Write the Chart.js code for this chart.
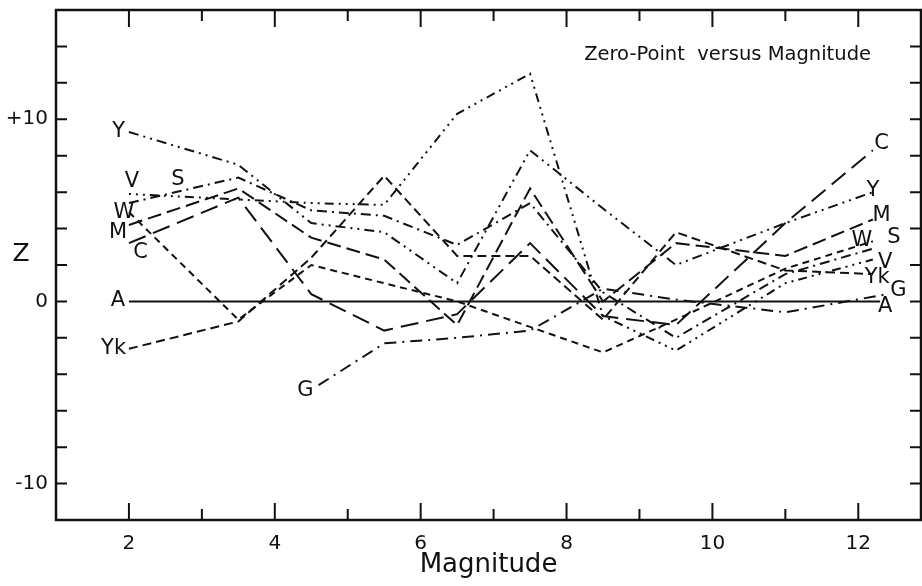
<!DOCTYPE html>
<html>
<head>
<meta charset="utf-8">
<script src="https://cdn.jsdelivr.net/npm/chart.js@4.4.0/dist/chart.umd.min.js"></script>
<style>
  html, body { margin: 0; padding: 0; background: #fff; }
</style>
</head>
<body>
<canvas id="zpChart" width="922" height="586"></canvas>
<script>
// magnitudes where the curves were measured
const mags  = [2, 3.5, 4.5, 5.5, 6.5, 7.5, 8.5, 9.5, 11, 12.2];
const magsG = [4.6, 5.5, 6.5, 7.5, 8.5, 9.5, 11, 12.4];
const magsA = [2, 12.3];

// zero-point Z for each curve
const zY  = [9.3, 7.5, 4.3, 3.8, 1.0, 8.3, 5.1, 2.0, 4.3, 6.0];
const zV  = [5.9, 5.6, 5.4, 5.3, 10.3, 12.5, -0.8, -2.7, 1.0, 2.3];
const zS  = [5.4, 6.8, 5.0, 4.7, 3.1, 5.4, 0.5, -2.0, 1.5, 2.9];
const zW  = [4.9, -1.0, 2.0, 1.0, 0.0, -1.4, -2.8, -1.0, 1.8, 3.3];
const zM  = [4.2, 6.2, 3.5, 2.3, -1.3, 6.2, 0.0, 3.2, 2.5, 4.5];
const zC  = [3.2, 5.7, 0.4, -1.6, -0.7, 3.2, -0.8, -1.3, 4.3, 8.3];
const zYk = [-2.6, -1.1, 2.4, 6.9, 2.5, 2.5, -1.0, 3.8, 1.7, 1.5];
const zG  = [-4.6, -2.3, -2.0, -1.6, 0.7, 0.1, -0.6, 0.4];
const zA  = [0, 0];

// tick marks and tick labels
const xTicks = [2, 3, 4, 5, 6, 7, 8, 9, 10, 11, 12];
const yTicks = [-10, -8, -6, -4, -2, 0, 2, 4, 6, 8, 10, 12, 14];
const yTickText = { "10": "+10", "0": "0", "-10": "-10" };

// curve names written at the ends of the lines (data coords)
const curveLabels = [
  { t: "Y", x: 1.86, y: 9.3 },  { t: "V", x: 2.04, y: 6.6 },
  { t: "S", x: 2.67, y: 6.7 },  { t: "W", x: 1.93, y: 4.9 },
  { t: "M", x: 1.85, y: 3.8 },  { t: "C", x: 2.16, y: 2.7 },
  { t: "A", x: 1.85, y: 0.05 }, { t: "Yk", x: 1.79, y: -2.6 },
  { t: "G", x: 4.42, y: -4.9 },
  { t: "C", x: 12.32, y: 8.66 }, { t: "Y", x: 12.2, y: 6.1 },
  { t: "M", x: 12.32, y: 4.7 },  { t: "W", x: 12.05, y: 3.34 },
  { t: "S", x: 12.49, y: 3.5 },  { t: "V", x: 12.37, y: 2.14 },
  { t: "Yk", x: 12.26, y: 1.3 }, { t: "G", x: 12.55, y: 0.6 },
  { t: "A", x: 12.37, y: -0.27 }
];

const FONT = "'DejaVu Sans', sans-serif";

function pts(xs, ys) {
  return xs.map((x, i) => ({ x: x, y: ys[i] }));
}

function line(name, xs, ys, dash) {
  return {
    label: name,
    data: pts(xs, ys),
    borderColor: "#111",
    borderWidth: 2,
    borderDash: dash,
    pointRadius: 0,
    fill: false,
    tension: 0
  };
}

// frame, inward ticks and the texts inside the plot
const decorations = {
  id: "decorations",
  afterDraw(chart) {
    const { ctx, chartArea: a, scales } = chart;
    const xs = scales.x, ys = scales.y;
    ctx.save();
    ctx.strokeStyle = "#111";
    ctx.lineWidth = 2.5;
    ctx.strokeRect(a.left, a.top, a.right - a.left, a.bottom - a.top);

    ctx.lineWidth = 2;
    ctx.beginPath();
    xs.ticks.forEach(t => {
      const px = xs.getPixelForValue(t.value);
      const len = t.value % 2 === 0 ? 17 : 11;
      ctx.moveTo(px, a.bottom); ctx.lineTo(px, a.bottom - len);
      ctx.moveTo(px, a.top); ctx.lineTo(px, a.top + len);
    });
    ys.ticks.forEach(t => {
      const py = ys.getPixelForValue(t.value);
      ctx.moveTo(a.left, py); ctx.lineTo(a.left + 11, py);
      ctx.moveTo(a.right, py); ctx.lineTo(a.right - 11, py);
    });
    ctx.stroke();

    ctx.fillStyle = "#111";
    ctx.textAlign = "center";
    ctx.textBaseline = "middle";
    ctx.font = "21px " + FONT;
    curveLabels.forEach(l => {
      ctx.fillText(l.t, xs.getPixelForValue(l.x), ys.getPixelForValue(l.y));
    });

    ctx.font = "25px " + FONT;
    ctx.fillText("Z", 21, ys.getPixelForValue(2.6));

    ctx.font = "19.5px " + FONT;
    ctx.textAlign = "right";
    ctx.fillText("Zero-Point  versus Magnitude", a.right - 50, a.top + 45);
    ctx.restore();
  }
};

const ctx = document.getElementById("zpChart").getContext("2d");

new Chart(ctx, {
  type: "line",
  data: {
    datasets: [
      line("A", magsA, zA, []),
      line("Y", mags, zY, [10, 5, 2, 5, 2, 5]),
      line("V", mags, zV, [2, 5, 2, 5, 2, 5, 9, 5]),
      line("S", mags, zS, [10, 5, 2, 5]),
      line("W", mags, zW, [7, 5]),
      line("M", mags, zM, [14, 6]),
      line("C", mags, zC, [18, 8]),
      line("Yk", mags, zYk, [9, 5]),
      line("G", magsG, zG, [12, 6, 2, 6])
    ]
  },
  options: {
    responsive: false,
    animation: false,
    layout: { padding: { left: 0, right: 1, top: 10, bottom: 0 } },
    plugins: {
      legend: { display: false },
      tooltip: { enabled: false }
    },
    scales: {
      x: {
        type: "linear",
        min: 1,
        max: 12.86,
        grid: { display: false, drawTicks: false },
        border: { display: false },
        afterBuildTicks: s => { s.ticks = xTicks.map(v => ({ value: v })); },
        ticks: {
          padding: 12,
          color: "#111",
          font: { family: FONT, size: 20 },
          maxRotation: 0,
          autoSkip: false,
          callback: v => (v % 2 === 0) ? String(v) : ""
        },
        title: {
          display: true,
          text: "Magnitude",
          color: "#111",
          font: { family: FONT, size: 26 },
          padding: { top: 0, bottom: 5 }
        },
        afterFit: s => {
          s.height = 66;
          s.paddingLeft = 0;
          s.paddingRight = 0;
        }
      },
      y: {
        type: "linear",
        min: -12,
        max: 16,
        grid: { display: false, drawTicks: false },
        border: { display: false },
        afterBuildTicks: s => { s.ticks = yTicks.map(v => ({ value: v })); },
        ticks: {
          padding: 8,
          color: "#111",
          font: { family: FONT, size: 20 },
          autoSkip: false,
          callback: v => yTickText[String(v)] || ""
        },
        afterFit: s => {
          s.width = 56;
          s.paddingTop = 0;
          s.paddingBottom = 0;
        }
      }
    }
  },
  plugins: [decorations]
});
</script>
</body>
</html>
